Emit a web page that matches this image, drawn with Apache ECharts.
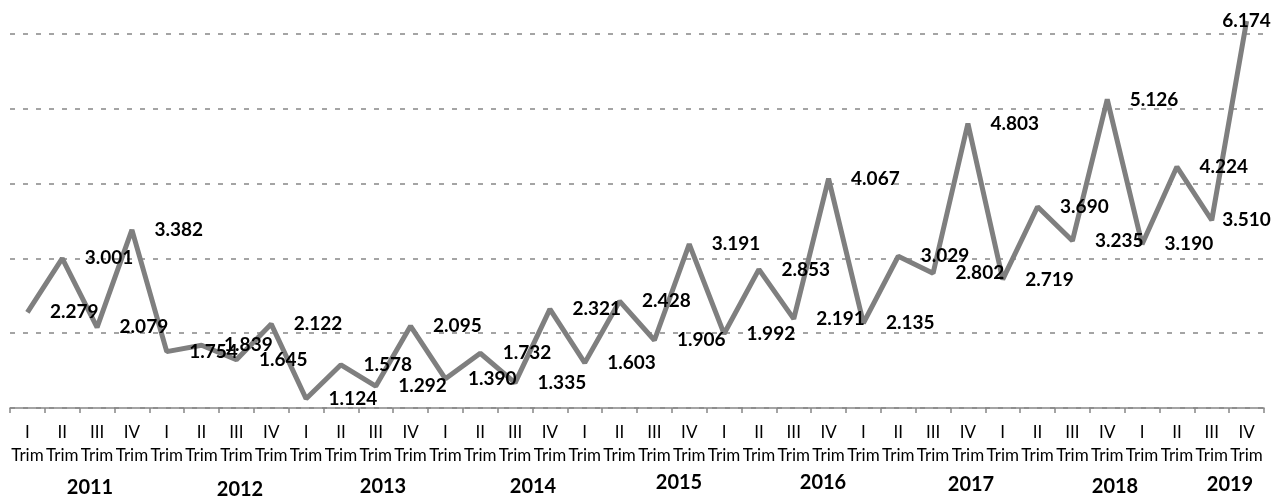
<!DOCTYPE html>
<html>
<head>
<meta charset="utf-8">
<script src="https://cdn.jsdelivr.net/npm/echarts/dist/echarts.min.js"></script>
<style>
html,body{margin:0;padding:0;background:#fff;}
#chart{width:1272px;height:497px;}
</style>
</head>
<body>
<div id="chart"></div>
<script>
// ---- data ----
var quarters = ['I','II','III','IV'];
var years = ['2011','2012','2013','2014','2015','2016','2017','2018','2019'];
var values = [
  2279, 3001, 2079, 3382,
  1754, 1839, 1645, 2122,
  1124, 1578, 1292, 2095,
  1390, 1732, 1335, 2321,
  1603, 2428, 1906, 3191,
  1992, 2853, 2191, 4067,
  2135, 3029, 2802, 4803,
  2719, 3690, 3235, 5126,
  3190, 4224, 3510, 6174
];
// ---- layout (year caption positions, px) ----
var yearPos = [[90,488],[240,490],[383,487],[533,487],[679,483],[823,483],[971,485],[1115,487],[1230,485]];

var categories = [];
years.forEach(function(y){ quarters.forEach(function(q){ categories.push(q + '\nTrim'); }); });

function fmt(v){ return String(v).replace(/\B(?=(\d{3})+(?!\d))/g, '.'); }

var n = values.length;
var seriesData = values.map(function(v, i){
  if (i === n - 1) {
    return {value: v, label: {position: 'inside', offset: [2, 0]}};
  }
  if (i === n - 2) {
    return {value: v, label: {distance: 10}};
  }
  return v;
});

var chart = echarts.init(document.getElementById('chart'), null, {renderer: 'canvas'});
chart.setOption({
  animation: false,
  backgroundColor: '#fff',
  grid: {left: 10, right: 8, top: 34, bottom: 89, containLabel: false},
  xAxis: {
    type: 'category',
    data: categories,
    boundaryGap: true,
    axisLine: {lineStyle: {color: '#868686', width: 1.5}},
    axisTick: {show: true, inside: false, length: 5, lineStyle: {color: '#868686', width: 1.5}},
    axisLabel: {
      interval: 0, color: '#000', fontFamily: 'Lato', fontSize: 17,
      lineHeight: 23, margin: 13
    }
  },
  yAxis: {
    type: 'value', min: 1000, max: 6000, interval: 1000,
    axisLine: {show: false}, axisTick: {show: false}, axisLabel: {show: false},
    splitLine: {show: true, lineStyle: {color: '#868686', width: 1.5, type: [5, 8]}}
  },
  series: [{
    type: 'line',
    data: seriesData,
    clip: false,
    symbol: 'circle',
    symbolSize: 1,
    showSymbol: true,
    itemStyle: {color: 'rgba(0,0,0,0)'},
    lineStyle: {color: '#7f7f7f', width: 5},
    labelLayout: {hideOverlap: false},
    label: {
      show: true, position: 'right', distance: 22,
      formatter: function(p){ return fmt(p.value); },
      color: '#000', fontFamily: 'Lato', fontWeight: 'bold', fontSize: 19
    },
    z: 3
  }],
  graphic: years.map(function(y, i){
    return {
      type: 'text', x: yearPos[i][0], y: yearPos[i][1],
      style: {text: y, fill: '#000', font: 'bold 20px Lato', textAlign: 'center', textVerticalAlign: 'middle'}
    };
  })
});
</script>
</body>
</html>
